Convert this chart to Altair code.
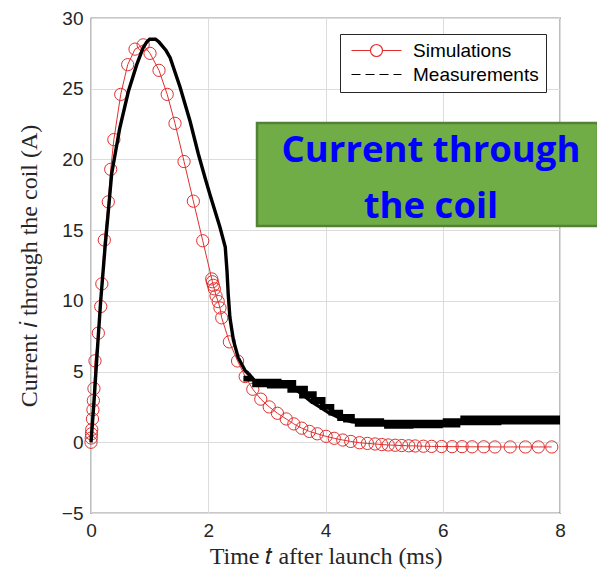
import altair as alt
import pandas as pd

# ---- data ----
sim_t = [0.0, 0.004, 0.008, 0.012, 0.025, 0.033, 0.04, 0.05, 0.068, 0.125, 0.166, 0.185,
         0.227, 0.295, 0.336, 0.39, 0.507, 0.626, 0.751, 0.89, 1.007, 1.16, 1.30, 1.433,
         1.587, 1.746, 1.906, 2.06, 2.07, 2.087, 2.104, 2.133, 2.17, 2.20, 2.23, 2.36,
         2.50, 2.63, 2.76, 2.896, 3.04, 3.18, 3.33, 3.46, 3.595, 3.725, 3.86, 4.01, 4.15,
         4.295, 4.43, 4.58, 4.715, 4.846, 4.96, 5.07, 5.19, 5.30, 5.42, 5.53, 5.67, 5.81,
         5.98, 6.16, 6.33, 6.50, 6.70, 6.89, 7.15, 7.41, 7.63, 7.86]
sim_i = [0.0, 0.3, 0.6, 0.9, 1.65, 2.3, 2.95, 3.8, 5.76, 7.72, 9.6, 11.2,
         14.3, 17.0, 19.3, 21.4, 24.6, 26.7, 27.8, 28.1, 27.5, 26.3, 24.6, 22.55,
         19.85, 17.05, 14.25, 11.55, 11.35, 11.1, 10.85, 10.35, 9.95, 9.5, 8.8, 7.1,
         5.75, 4.65, 3.75, 3.05, 2.5, 2.05, 1.65, 1.3, 1.0, 0.77, 0.6, 0.42, 0.28,
         0.16, 0.06, -0.03, -0.08, -0.12, -0.16, -0.19, -0.21, -0.23, -0.25, -0.26, -0.28, -0.29,
         -0.3, -0.31, -0.31, -0.32, -0.32, -0.33, -0.33, -0.33, -0.33, -0.33]

meas_t = [0.0, 0.05, 0.1, 0.165, 0.24, 0.31, 0.353, 0.49, 0.637, 0.78, 0.89, 0.95, 1.0,
          1.1, 1.16, 1.28, 1.35, 1.52, 1.69, 1.83, 1.945, 2.03, 2.2, 2.29, 2.32, 2.34,
          2.37, 2.43, 2.51, 2.63, 2.74, 2.8, 3.0, 3.3, 3.45, 3.6, 3.75, 3.9, 4.05, 4.25,
          4.45, 4.8, 5.3, 5.8, 6.2, 6.6, 7.2, 8.0]
meas_i = [0.0, 2.8, 6.0, 10.0, 13.8, 17.0, 19.0, 22.2, 24.8, 26.7, 27.9, 28.3, 28.5,
          28.5, 28.3, 27.7, 27.2, 25.1, 22.7, 20.4, 18.7, 17.5, 15.2, 13.8, 12.1, 10.5,
          8.8, 7.2, 6.0, 5.06, 4.6, 4.3, 4.2, 4.1, 3.85, 3.4, 2.9, 2.5, 2.1, 1.7,
          1.45, 1.35, 1.3, 1.35, 1.45, 1.55, 1.55, 1.55]

band_t = [2.6, 2.75, 3.0, 3.25, 3.35, 3.5, 3.55, 3.7, 3.75, 3.85, 3.9, 4.0, 4.05, 4.15, 4.2, 4.3,
          4.5, 5.0, 5.5, 6.0, 6.3, 7.0, 8.0]
band_lo = [4.3, 3.9, 3.8, 3.8, 3.5, 3.5, 3.1, 3.1, 2.7, 2.7, 2.3, 2.3, 1.9, 1.9, 1.5, 1.4,
           1.1, 0.95, 1.0, 1.05, 1.2, 1.25, 1.25]
band_hi = [4.7, 4.5, 4.5, 4.4, 4.4, 4.0, 4.0, 3.6, 3.6, 3.2, 3.2, 2.7, 2.7, 2.3, 2.3, 2.0,
           1.7, 1.6, 1.6, 1.7, 1.9, 1.9, 1.9]

series_names = ["Simulations", "Measurements"]
x_ticks = [0, 2, 4, 6, 8]
y_ticks = [-5, 0, 5, 10, 15, 20, 25, 30]
box_lines = ["Current through", "the coil"]

RED = "#e0302f"
SIM_PATH = ("M-1,0L2.8,0M5.2,0L9,0M5.2,0C5.2,0.663 4.663,1.2 4,1.2C3.337,1.2 2.8,0.663 2.8,0"
            "C2.8,-0.663 3.337,-1.2 4,-1.2C4.663,-1.2 5.2,-0.663 5.2,0Z")
MEAS_PATH = "M-1,0L0.8,0M1.8,0L3.6,0M4.6,0L6.4,0M7.4,0L9,0"

sim = pd.DataFrame({"t": sim_t, "i": sim_i, "series": "Simulations"})
meas = pd.DataFrame({"t": meas_t, "i": meas_i})
band = pd.DataFrame({"t": band_t, "lo": band_lo, "hi": band_hi})

xs = alt.Scale(domain=[0, 8], nice=False)
ys = alt.Scale(domain=[-5, 30], nice=False)

x_axis = alt.Axis(values=x_ticks, title="Time 𝑡 after launch (ms)", grid=True, ticks=False,
                  domain=False, labelPadding=8, labelFont="Liberation Sans", labelFontSize=19,
                  labelColor="#262626", titleFont="Liberation Serif", titleFontSize=24,
                  titleFontWeight="normal", titleColor="#262626", titlePadding=4,
                  gridColor="#dcdcdc", labelFlush=False)
y_axis = alt.Axis(values=y_ticks, title="Current 𝑖 through the coil (A)", grid=True, ticks=False,
                  domain=False, labelPadding=8, labelFont="Liberation Sans", labelFontSize=19,
                  labelColor="#262626", titleFont="Liberation Serif", titleFontSize=24,
                  titleFontWeight="normal", titleColor="#262626", titlePadding=20,
                  gridColor="#dcdcdc", labelFlush=False)


def X(field="t"):
    return alt.X(f"{field}:Q", scale=xs, axis=x_axis)


def Y(field="i"):
    return alt.Y(f"{field}:Q", scale=ys, axis=y_axis)


sim_line = alt.Chart(sim).mark_line(color=RED, strokeWidth=1).encode(
    x=X(), y=Y(), order="t:Q",
)
sim_pts = alt.Chart(sim).mark_point(filled=False, size=150, strokeWidth=1, color=RED, opacity=1).encode(
    x=X(), y=Y(),
)
meas_band = alt.Chart(band).mark_area(color="black", opacity=1, interpolate="step-after").encode(
    x=X(), y=Y("lo"), y2="hi:Q",
)
meas_line = alt.Chart(meas).mark_line(color="black", strokeWidth=3.4).encode(
    x=X(), y=Y(), order="t:Q",
)

leg = alt.Legend(title=None, orient="none", legendX=249, legendY=16, symbolSize=100,
                 symbolStrokeWidth=1.2, symbolOpacity=1, labelFont="Liberation Sans", labelFontSize=19,
                 labelColor="black", labelOffset=47, padding=7, rowPadding=4,
                 strokeColor="#262626", fillColor="white", cornerRadius=0)
legend_layer = alt.Chart(sim).transform_filter("false").mark_point(filled=False, opacity=1).encode(
    x=X(), y=Y(),
    stroke=alt.Stroke("series:N", scale=alt.Scale(domain=series_names, range=[RED, "black"]), legend=leg),
    shape=alt.Shape("series:N", scale=alt.Scale(domain=series_names, range=[SIM_PATH, MEAS_PATH]), legend=leg),
)

one = pd.DataFrame({"k": [0]})
box = alt.Chart(one).mark_rect(fill="#70ad47", stroke="#548235", strokeWidth=2.5).encode(
    x=alt.value(166), x2=alt.value(507), y=alt.value(105), y2=alt.value(208)
)
txt1 = alt.Chart(one).mark_text(font="Open Sans", fontWeight="bold", fontSize=36.5, color="#0000ff",
                                align="center", baseline="alphabetic").encode(
    x=alt.value(340), y=alt.value(144), text=alt.value(box_lines[0])
)
txt2 = alt.Chart(one).mark_text(font="Open Sans", fontWeight="bold", fontSize=36.5, color="#0000ff",
                                align="center", baseline="alphabetic").encode(
    x=alt.value(340), y=alt.value(200), text=alt.value(box_lines[1])
)

chart = alt.layer(sim_line, sim_pts, meas_band, meas_line, legend_layer, box, txt1, txt2).properties(
    width=469, height=495,
    autosize=alt.AutoSizeParams(type="none"),
    padding={"left": 83, "top": 10, "right": 37, "bottom": 58},
    background="white",
).configure_view(stroke="#262626", strokeWidth=1.2)

chart.save("out.html", embed_options={"renderer": "svg", "actions": False})
